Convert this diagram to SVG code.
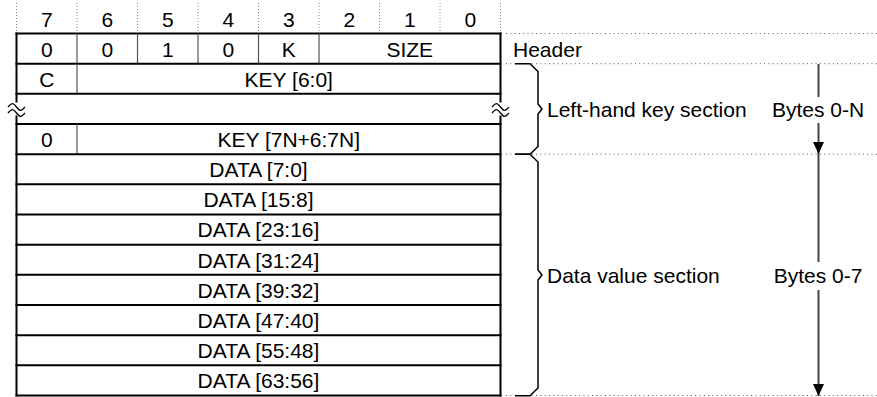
<svg xmlns="http://www.w3.org/2000/svg" width="877" height="397" viewBox="0 0 877 397">
<style>
.t{font-family:"Liberation Sans",Arial,sans-serif;font-size:21px;fill:#000;text-anchor:middle}
.s{text-anchor:start}
.hl{stroke:#000;stroke-width:2;fill:none}
.vs{stroke:#555;stroke-width:1.2}
.dot{stroke:#555;stroke-width:1;stroke-dasharray:1 3.3;fill:none}
.vdot{stroke:#888;stroke-width:1;stroke-dasharray:1 2}
.brace{stroke:#000;stroke-width:1.5;fill:none}
.brk{stroke:#000;stroke-width:1.3;fill:none}
.arr{stroke:#444;stroke-width:2;fill:none}
</style>
<defs>
<marker id="ah" viewBox="0 0 12 11" refX="12" refY="5.5" markerWidth="12" markerHeight="11" markerUnits="userSpaceOnUse" orient="auto"><path d="M0,0 L12,5.5 L0,11 z" fill="#000"/></marker>
</defs>
<rect width="877" height="397" fill="#fff"/>

<g id="bit-numbers">
<line class="vdot" x1="16.5" y1="3" x2="16.5" y2="33"/>
<line class="vdot" x1="77" y1="3" x2="77" y2="33"/>
<line class="vdot" x1="137.5" y1="3" x2="137.5" y2="33"/>
<line class="vdot" x1="198" y1="3" x2="198" y2="33"/>
<line class="vdot" x1="258.5" y1="3" x2="258.5" y2="33"/>
<line class="vdot" x1="319" y1="3" x2="319" y2="33"/>
<line class="vdot" x1="379.5" y1="3" x2="379.5" y2="33"/>
<line class="vdot" x1="440" y1="3" x2="440" y2="33"/>
<line class="vdot" x1="500.5" y1="3" x2="500.5" y2="33"/>
<text class="t" x="46.75" y="27">7</text>
<text class="t" x="107.25" y="27">6</text>
<text class="t" x="167.75" y="27">5</text>
<text class="t" x="228.25" y="27">4</text>
<text class="t" x="288.75" y="27">3</text>
<text class="t" x="349.25" y="27">2</text>
<text class="t" x="409.75" y="27">1</text>
<text class="t" x="470.25" y="27">0</text>
</g>

<g id="table-frame">
<line class="hl" x1="16.5" y1="32.5" x2="16.5" y2="102.5"/>
<line class="hl" x1="16.5" y1="115.5" x2="16.5" y2="396.5"/>
<line class="hl" x1="500.5" y1="32.5" x2="500.5" y2="102.5"/>
<line class="hl" x1="500.5" y1="115.5" x2="500.5" y2="396.5"/>
<path class="brk" d="M8,107 c4,-4.5 5,-4.5 8.5,0 s4.5,4.5 8.5,0"/>
<path class="brk" d="M8,113 c4,-4.5 5,-4.5 8.5,0 s4.5,4.5 8.5,0"/>
<path class="brk" d="M492,107 c4,-4.5 5,-4.5 8.5,0 s4.5,4.5 8.5,0"/>
<path class="brk" d="M492,113 c4,-4.5 5,-4.5 8.5,0 s4.5,4.5 8.5,0"/>
</g>

<g id="row-header">
<line class="hl" x1="15.5" y1="33.5" x2="501.5" y2="33.5"/>
<line class="vs" x1="77" y1="33.5" x2="77" y2="63.7"/>
<line class="vs" x1="137.5" y1="33.5" x2="137.5" y2="63.7"/>
<line class="vs" x1="198" y1="33.5" x2="198" y2="63.7"/>
<line class="vs" x1="258.5" y1="33.5" x2="258.5" y2="63.7"/>
<line class="vs" x1="319" y1="33.5" x2="319" y2="63.7"/>
<text class="t" x="46.75" y="56.5">0</text>
<text class="t" x="107.25" y="56.5">0</text>
<text class="t" x="167.75" y="56.5">1</text>
<text class="t" x="228.25" y="56.5">0</text>
<text class="t" x="288.75" y="56.5">K</text>
<text class="t" x="409.75" y="56.5">SIZE</text>
</g>

<g id="row-key0">
<line class="hl" x1="15.5" y1="63.7" x2="501.5" y2="63.7"/>
<line class="vs" x1="77" y1="63.7" x2="77" y2="93.8"/>
<text class="t" x="46.75" y="86.7">C</text>
<text class="t" x="288.75" y="86.7">KEY [6:0]</text>
</g>

<g id="row-break">
<line class="hl" x1="15.5" y1="93.8" x2="501.5" y2="93.8"/>
</g>

<g id="row-keyN">
<line class="hl" x1="15.5" y1="124" x2="501.5" y2="124"/>
<line class="vs" x1="77" y1="124" x2="77" y2="154.2"/>
<text class="t" x="46.75" y="147">0</text>
<text class="t" x="288.75" y="147">KEY [7N+6:7N]</text>
</g>

<g id="row-data0">
<line class="hl" x1="15.5" y1="154.2" x2="501.5" y2="154.2"/>
<text class="t" x="258.5" y="177.1">DATA [7:0]</text>
</g>
<g id="row-data1">
<line class="hl" x1="15.5" y1="184.3" x2="501.5" y2="184.3"/>
<text class="t" x="258.5" y="207.2">DATA [15:8]</text>
</g>
<g id="row-data2">
<line class="hl" x1="15.5" y1="214.5" x2="501.5" y2="214.5"/>
<text class="t" x="258.5" y="237.4">DATA [23:16]</text>
</g>
<g id="row-data3">
<line class="hl" x1="15.5" y1="244.7" x2="501.5" y2="244.7"/>
<text class="t" x="258.5" y="267.6">DATA [31:24]</text>
</g>
<g id="row-data4">
<line class="hl" x1="15.5" y1="274.8" x2="501.5" y2="274.8"/>
<text class="t" x="258.5" y="297.7">DATA [39:32]</text>
</g>
<g id="row-data5">
<line class="hl" x1="15.5" y1="305" x2="501.5" y2="305"/>
<text class="t" x="258.5" y="327.9">DATA [47:40]</text>
</g>
<g id="row-data6">
<line class="hl" x1="15.5" y1="335.2" x2="501.5" y2="335.2"/>
<text class="t" x="258.5" y="358.1">DATA [55:48]</text>
</g>
<g id="row-data7">
<line class="hl" x1="15.5" y1="365.3" x2="501.5" y2="365.3"/>
<line class="hl" x1="15.5" y1="395.5" x2="501.5" y2="395.5"/>
<text class="t" x="258.5" y="388.2">DATA [63:56]</text>
</g>

<g id="guides">
<line class="dot" x1="506" y1="33.5" x2="877" y2="33.5"/>
<line class="dot" x1="506" y1="63.7" x2="877" y2="63.7"/>
<line class="dot" x1="506" y1="154.2" x2="877" y2="154.2"/>
<line class="dot" x1="506" y1="395.5" x2="877" y2="395.5"/>
</g>

<g id="label-header">
<text class="t s" x="513" y="56.5">Header</text>
</g>

<g id="label-key-section">
<path class="brace" d="M515,63.7 H530 L538,71.5 V104 L542,109 L538,114 V146.5 L530,154.2 H515"/>
<text class="t s" x="547" y="116.5">Left-hand key section</text>
</g>

<g id="label-data-section">
<path class="brace" d="M515,154.2 H530 L538,162 V270 L542,275 L538,280 V388 L530,395.8 H515"/>
<text class="t s" x="547" y="282.5">Data value section</text>
</g>

<g id="connectors">
<line class="arr" x1="818.5" y1="64" x2="818.5" y2="97"/>
<line class="arr" x1="818.5" y1="123" x2="818.5" y2="154" marker-end="url(#ah)"/>
<line class="arr" x1="818.5" y1="154" x2="818.5" y2="262"/>
<line class="arr" x1="818.5" y1="290" x2="818.5" y2="396" marker-end="url(#ah)"/>
</g>

<g id="label-bytes">
<text class="t" x="818" y="116.5">Bytes 0-N</text>
<text class="t" x="818" y="282.5">Bytes 0-7</text>
</g>
</svg>
